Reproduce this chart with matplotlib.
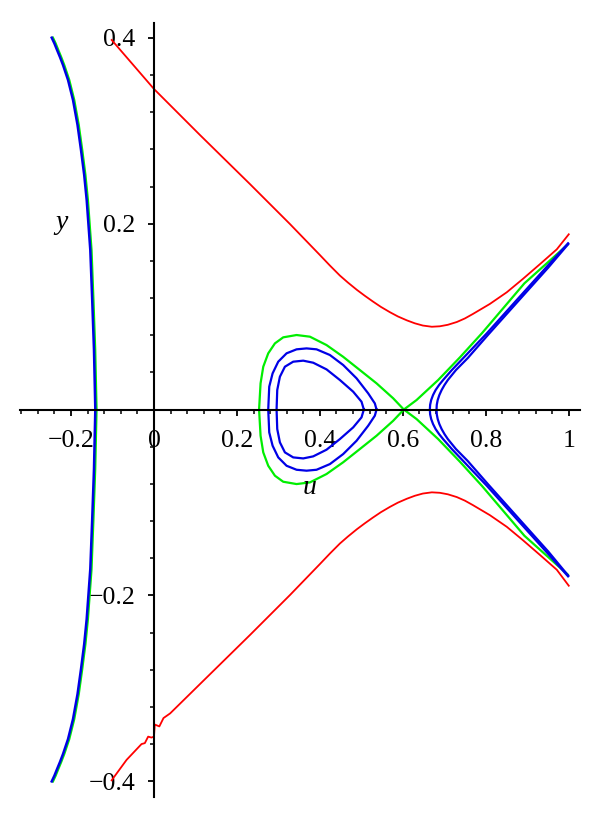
import matplotlib
matplotlib.use("Agg")
import matplotlib.pyplot as plt
from matplotlib.ticker import FixedLocator, MultipleLocator

plt.rcParams['font.family'] = ['Liberation Serif', 'DejaVu Serif']

# curves (u, y)
red_up_u = [-0.1019, 0.0, 0.1108, 0.2313, 0.3277, 0.4, 0.4241, 0.4482, 0.4675, 0.4892, 0.5084,
            0.5277, 0.547, 0.5687, 0.588, 0.6096, 0.6289, 0.6482, 0.6699, 0.6892, 0.7084, 0.7301,
            0.7494, 0.7687, 0.8096, 0.8506, 0.8892, 0.9301, 0.9711, 1.0]
red_up_y = [0.3977, 0.3450, 0.2955, 0.2427, 0.1997, 0.1663, 0.1550, 0.1442, 0.1367, 0.1288, 0.1224,
            0.1163, 0.1105, 0.1048, 0.1002, 0.0960, 0.0928, 0.0904, 0.0891, 0.0896, 0.0912, 0.0942,
            0.0980, 0.1028, 0.1136, 0.1262, 0.1405, 0.1563, 0.1724, 0.1886]

red_lo_u = [-0.102, -0.066, -0.030, -0.022, -0.014, -0.006, 0.0, 0.002, 0.013, 0.023, 0.039,
            0.1108, 0.2313, 0.3277, 0.4, 0.4241, 0.4482, 0.4675, 0.4892, 0.5084,
            0.5277, 0.547, 0.5687, 0.588, 0.6096, 0.6289, 0.6482, 0.6699, 0.6892, 0.7084, 0.7301,
            0.7494, 0.7687, 0.8096, 0.8506, 0.8892, 0.9301, 0.9711, 1.0]
red_lo_y = [-0.399, -0.377, -0.360, -0.359, -0.352, -0.353, -0.352, -0.339, -0.341, -0.332, -0.327,
            -0.2955, -0.2427, -0.1997, -0.1663, -0.1550, -0.1442, -0.1367, -0.1288, -0.1224,
            -0.1163, -0.1105, -0.1048, -0.1002, -0.0960, -0.0928, -0.0904, -0.0891, -0.0896, -0.0912,
            -0.0942, -0.0980, -0.1028, -0.1136, -0.1262, -0.1405, -0.1563, -0.1724, -0.1896]

left_blue_u = [-0.2465, -0.2400, -0.2337, -0.2265, -0.2193, -0.2072, -0.1952, -0.1843, -0.1759,
               -0.1682, -0.1622, -0.1535, -0.1489, -0.1446, -0.1414, -0.1446, -0.1489, -0.1535,
               -0.1622, -0.1682, -0.1759, -0.1843, -0.1952, -0.2072, -0.2193, -0.2265, -0.2337,
               -0.2400, -0.2465]
left_green_u = [-0.2435, -0.2370, -0.2307, -0.2235, -0.2163, -0.2042, -0.1922, -0.1813, -0.1729,
                -0.1652, -0.1592, -0.1505, -0.1459, -0.1416, -0.1384, -0.1416, -0.1459, -0.1505,
                -0.1592, -0.1652, -0.1729, -0.1813, -0.1922, -0.2042, -0.2163, -0.2235, -0.2307,
                -0.2370, -0.2435]
left_y = [0.4002, 0.3940, 0.3870, 0.3792, 0.3708, 0.3547, 0.3332, 0.3063, 0.2793, 0.2524, 0.2255,
          0.1717, 0.1179, 0.0640, 0.0, -0.0640, -0.1179, -0.1717, -0.2255, -0.2524, -0.2793,
          -0.3063, -0.3332, -0.3547, -0.3708, -0.3792, -0.3870, -0.3940, -0.4002]

# separatrix loop, upper then lower half
sep_loop_u = [0.6024, 0.5767, 0.5366, 0.4964, 0.456, 0.416, 0.376, 0.3438, 0.3116, 0.2916, 0.2755,
              0.2635, 0.257, 0.2534, 0.257, 0.2635, 0.2755, 0.2916, 0.3116, 0.3438, 0.376, 0.416,
              0.456, 0.4964, 0.5366, 0.5767, 0.6024]
sep_loop_y = [0.0, 0.0121, 0.0282, 0.0425, 0.0568, 0.0694, 0.0784, 0.0802, 0.0777, 0.0712, 0.0605,
              0.0461, 0.0282, 0.0, -0.0282, -0.0461, -0.0605, -0.0712, -0.0777, -0.0802, -0.0784,
              -0.0694, -0.0568, -0.0425, -0.0282, -0.0121, 0.0]
sep_tail_u = [0.9976, 0.893, 0.791, 0.7373, 0.685, 0.633, 0.6024, 0.633, 0.685, 0.7373, 0.791,
              0.893, 0.9976]
sep_tail_y = [0.1776, 0.1358, 0.0823, 0.0560, 0.0317, 0.0102, 0.0, -0.0102, -0.0317, -0.0560,
              -0.0823, -0.1358, -0.1776]

# closed orbits inside the loop (upper half, lower half)
orbit1_u = [0.5366, 0.5325, 0.5165, 0.4884, 0.4562, 0.4241, 0.3920, 0.3679, 0.3438, 0.3197, 0.2996,
            0.2860, 0.2779, 0.2755, 0.2779, 0.2860, 0.2996, 0.3197, 0.3438, 0.3679, 0.3920, 0.4241,
            0.4562, 0.4884, 0.5165, 0.5325, 0.5366]
orbit1_y = [0.0, 0.0066, 0.0174, 0.0336, 0.0479, 0.0587, 0.0648, 0.0658, 0.0648, 0.0605, 0.0515,
            0.0389, 0.0246, 0.0, -0.0246, -0.0389, -0.0515, -0.0605, -0.0648, -0.0658, -0.0648,
            -0.0587, -0.0479, -0.0336, -0.0174, -0.0066, 0.0]
orbit2_u = [0.5060, 0.5004, 0.4803, 0.4482, 0.4161, 0.3839, 0.3598, 0.3357, 0.3157, 0.3036, 0.2972,
            0.2956, 0.2972, 0.3036, 0.3157, 0.3357, 0.3598, 0.3839, 0.4161, 0.4482, 0.4803, 0.5004,
            0.5060]
orbit2_y = [0.0, 0.0084, 0.0192, 0.0318, 0.0432, 0.0504, 0.0526, 0.0515, 0.0461, 0.0353, 0.0210,
            0.0, -0.0210, -0.0353, -0.0461, -0.0515, -0.0526, -0.0504, -0.0432, -0.0318, -0.0192,
            -0.0084, 0.0]

# open branches right of the saddle
branch1_u = [0.9983, 0.9470, 0.8747, 0.8024, 0.7480, 0.7181, 0.6971, 0.6875, 0.6790, 0.6728,
             0.6683, 0.6658, 0.6651, 0.6658, 0.6683, 0.6728, 0.6790, 0.6875, 0.6971, 0.7181,
             0.7480, 0.8024, 0.8747, 0.9470, 0.9983]
branch1_y = [0.1789, 0.1537, 0.1179, 0.0820, 0.0565, 0.0425, 0.0318, 0.0265, 0.0210, 0.0156,
             0.0102, 0.0051, 0.0, -0.0051, -0.0102, -0.0156, -0.0210, -0.0265, -0.0318, -0.0425,
             -0.0565, -0.0820, -0.1179, -0.1537, -0.1795]
branch2_u = [0.9988, 0.9506, 0.8783, 0.8060, 0.7565, 0.7280, 0.7085, 0.7005, 0.6935, 0.6880,
             0.6840, 0.6818, 0.6812, 0.6818, 0.6840, 0.6880, 0.6935, 0.7005, 0.7085, 0.7280,
             0.7565, 0.8060, 0.8783, 0.9506, 0.9988]
branch2_y = [0.1781, 0.1528, 0.1168, 0.0807, 0.0554, 0.0425, 0.0318, 0.0265, 0.0210, 0.0156,
             0.0102, 0.0051, 0.0, -0.0051, -0.0102, -0.0156, -0.0210, -0.0265, -0.0318, -0.0425,
             -0.0554, -0.0807, -0.1168, -0.1528, -0.1788]

x_major = [-0.2, 0, 0.2, 0.4, 0.6, 0.8, 1.0]
x_labels = ['\u22120.2', '0', '0.2', '0.4', '0.6', '0.8', '1']
y_major = [-0.4, -0.2, 0.2, 0.4]
y_labels = ['\u22120.4', '\u22120.2', '0.2', '0.4']

RED = '#ff0000'
GREEN = '#00ee00'
BLUE = '#0000e6'

fig = plt.figure(figsize=(6.0, 8.21), dpi=100)
ax = fig.add_axes([0.0333, 0.0292, 0.9333, 0.9428])

ax.plot(red_up_u, red_up_y, color=RED, lw=1.3)
ax.plot(red_lo_u, red_lo_y, color=RED, lw=1.3)
ax.plot(left_green_u, left_y, color=GREEN, lw=1.6)
ax.plot(sep_loop_u, sep_loop_y, color=GREEN, lw=1.6)
ax.plot(sep_tail_u, sep_tail_y, color=GREEN, lw=1.6)
ax.plot(left_blue_u, left_y, color=BLUE, lw=1.8)
ax.plot(orbit1_u, orbit1_y, color=BLUE, lw=1.6)
ax.plot(orbit2_u, orbit2_y, color=BLUE, lw=1.6)
ax.plot(branch1_u, branch1_y, color=BLUE, lw=1.6)
ax.plot(branch2_u, branch2_y, color=BLUE, lw=1.6)

ax.set_xlim(-0.323, 1.027)
ax.set_ylim(-0.417, 0.416)

for s in ['top', 'right']:
    ax.spines[s].set_visible(False)
ax.spines['left'].set_position(('data', 0))
ax.spines['bottom'].set_position(('data', 0))
for s in ['left', 'bottom']:
    ax.spines[s].set_linewidth(1.5)

ax.xaxis.set_major_locator(FixedLocator(x_major))
ax.set_xticklabels(x_labels)
ax.yaxis.set_major_locator(FixedLocator(y_major))
ax.set_yticklabels(y_labels)
ax.xaxis.set_minor_locator(MultipleLocator(0.04))
ax.yaxis.set_minor_locator(MultipleLocator(0.04))
ax.tick_params(which='major', direction='out', length=4.5, width=1.3, labelsize=18.5)
ax.tick_params(which='minor', direction='out', length=2.8, width=1.1)
ax.tick_params(axis='x', which='major', pad=10)
ax.tick_params(axis='y', which='major', pad=9)

ax.text(-0.2217, 0.2018, 'y', style='italic', fontsize=20, ha='center', va='center')
ax.text(0.376, -0.0834, 'u', style='italic', fontsize=20, ha='center', va='center')

fig.savefig('out.png', dpi=100)
